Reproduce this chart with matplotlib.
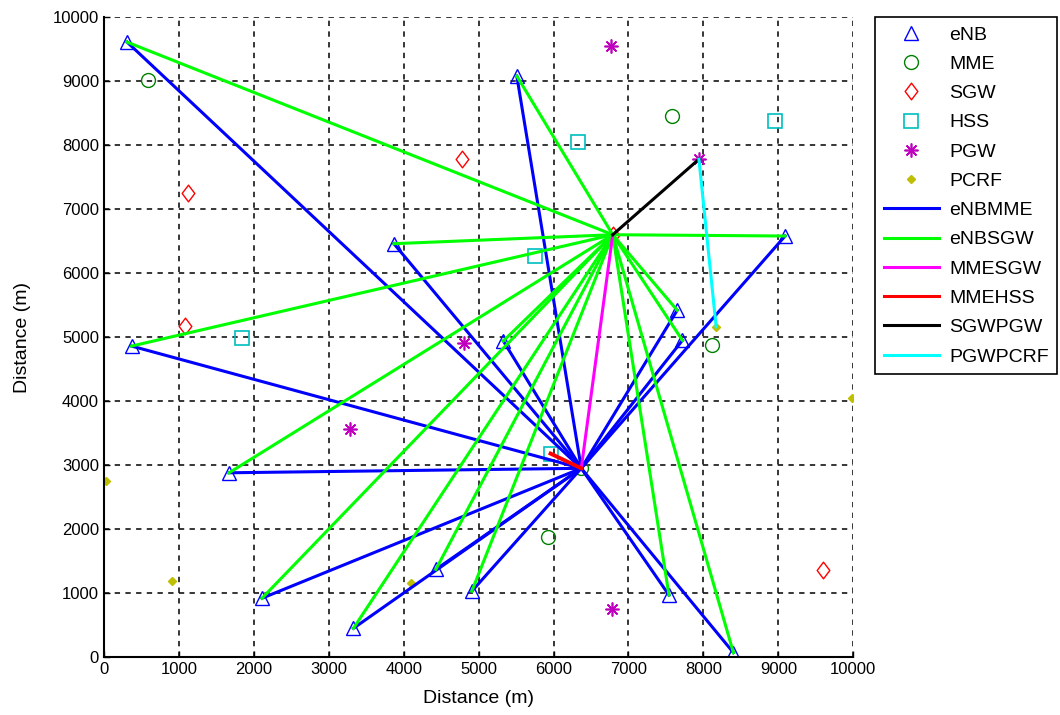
import matplotlib
matplotlib.use("Agg")
import matplotlib.pyplot as plt
from matplotlib.lines import Line2D
from matplotlib.path import Path

plt.rcParams["font.family"] = ["Liberation Sans", "DejaVu Sans"]

# node positions (m)
enb_x = [310, 5510, 3870, 9090, 370, 1670, 2110, 3330, 4430, 4910, 5330, 7650, 7720, 7540, 8400]
enb_y = [9610, 9080, 6460, 6580, 4860, 2880, 920, 450, 1370, 1030, 4940, 5420, 4950, 970, 70]

mme_x = [6370, 590, 7580, 8120, 5930]
mme_y = [2950, 9020, 8450, 4880, 1870]

sgw_x = [6790, 1120, 4780, 1080, 9600]
sgw_y = [6600, 7250, 7780, 5170, 1360]

hss_x = [5960, 6320, 8950, 1840, 5750]
hss_y = [3180, 8050, 8380, 4990, 6270]

pgw_x = [7940, 6770, 4810, 3280, 6780]
pgw_y = [7780, 9550, 4910, 3560, 750]

pcrf_x = [8170, 30, 910, 4100, 9980]
pcrf_y = [5160, 2750, 1190, 1150, 4050]

# the first entry of each core list is the node that is wired up
ticks = list(range(0, 10001, 1000))

fig = plt.figure(figsize=(10.6, 7.15), dpi=100)
ax = fig.add_axes([0.098, 0.081, 0.707, 0.895])

blue = (0, 0, 1)
green = (0, 1, 0)
ms = 10

# matlab style diamond, a bit wider than matplotlib's thin one
diamond = Path([(0, 1), (0.76, 0), (0, -1), (-0.76, 0), (0, 1)],
               [Path.MOVETO, Path.LINETO, Path.LINETO, Path.LINETO, Path.CLOSEPOLY])

# markers first, links are drawn over them
mk = [
    dict(marker="^", mfc="none", mec=blue, ms=ms, mew=1.0),
    dict(marker="o", mfc="none", mec=(0, 0.5, 0), ms=ms, mew=1.0),
    dict(marker=diamond, mfc="none", mec=(1, 0, 0), ms=12, mew=1.0),
    dict(marker="s", mfc="none", mec=(0, 0.75, 0.75), ms=ms, mew=1.2),
    dict(marker=(8, 2, 0), mec=(0.75, 0, 0.75), ms=ms, mew=1.2),
    dict(marker="D", mfc=(0.75, 0.75, 0), mec=(0.75, 0.75, 0), ms=4.2),
]
names = ["eNB", "MME", "SGW", "HSS", "PGW", "PCRF"]
xs = [enb_x, mme_x, sgw_x, hss_x, pgw_x, pcrf_x]
ys = [enb_y, mme_y, sgw_y, hss_y, pgw_y, pcrf_y]
for x, y, style in zip(xs, ys, mk):
    ax.plot(x, y, ls="none", zorder=2, **style)

lw = 2.2
for x, y in zip(enb_x, enb_y):
    ax.plot([x, mme_x[0]], [y, mme_y[0]], color=blue, lw=lw, zorder=3)
for x, y in zip(enb_x, enb_y):
    ax.plot([x, sgw_x[0]], [y, sgw_y[0]], color=green, lw=lw, zorder=3)
ax.plot([mme_x[0], sgw_x[0]], [mme_y[0], sgw_y[0]], color=(1, 0, 1), lw=lw, zorder=3)
ax.plot([mme_x[0], hss_x[0]], [mme_y[0], hss_y[0]], color=(1, 0, 0), lw=lw + 0.6, zorder=3)
ax.plot([sgw_x[0], pgw_x[0]], [sgw_y[0], pgw_y[0]], color="k", lw=lw, zorder=3)
ax.plot([pgw_x[0], pcrf_x[0]], [pgw_y[0], pcrf_y[0]], color=(0, 1, 1), lw=lw, zorder=3)

ax.set_xlim(0, 10000)
ax.set_ylim(0, 10000)
ax.set_xticks(ticks)
ax.set_yticks(ticks)
ax.tick_params(direction="in", labelsize=12, length=4, width=1, colors="k")
ax.grid(True, color="k", linestyle=(0, (3.5, 3.5)), linewidth=1.1)
ax.set_axisbelow(True)
for side in ["top", "right"]:
    ax.spines[side].set_visible(False)
for side in ["left", "bottom"]:
    ax.spines[side].set_linewidth(1.5)
ax.set_xlabel("Distance (m)", fontsize=14)
ax.set_ylabel("Distance (m)", fontsize=14)
ax.xaxis.set_label_coords(0.5, -0.052)
ax.yaxis.set_label_coords(-0.097, 0.5)

line_cols = [blue, green, (1, 0, 1), (1, 0, 0), "k", (0, 1, 1)]
line_names = ["eNBMME", "eNBSGW", "MMESGW", "MMEHSS", "SGWPGW", "PGWPCRF"]
handles = [Line2D([0], [0], ls="none", label=n, **s) for n, s in zip(names, mk)]
handles += [Line2D([0], [0], color=c, lw=lw, label=n) for c, n in zip(line_cols, line_names)]
leg = ax.legend(
    handles=handles,
    loc="upper left",
    bbox_to_anchor=(1.029, 1.0),
    fontsize=14,
    frameon=True,
    fancybox=False,
    framealpha=1,
    edgecolor="k",
    borderaxespad=0,
    borderpad=0.45,
    handlelength=2.85,
    handletextpad=0.5,
    labelspacing=0.6,
)
leg.get_frame().set_linewidth(1.2)

fig.savefig("out.png", dpi=100)
